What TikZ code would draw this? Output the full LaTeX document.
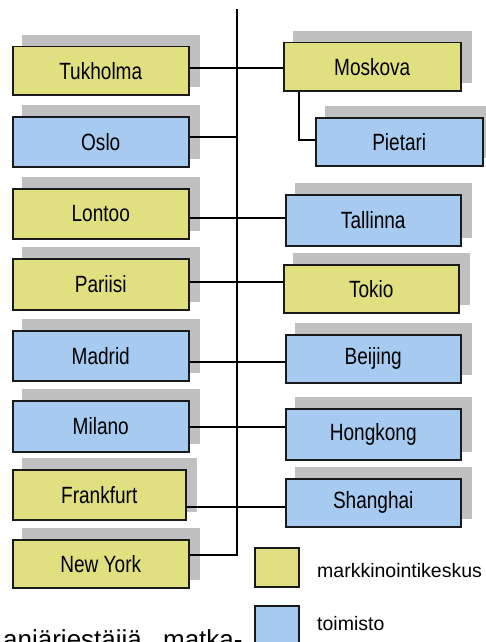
\documentclass[tikz,border=0pt]{standalone}
\usepackage{fontspec}
\setmainfont{Liberation Sans}
\newfontfamily\boxfont[FakeStretch=0.81]{Liberation Sans}
\pgfdeclarelayer{bg}
\pgfsetlayers{bg,main}
\definecolor{yel}{HTML}{E0E080}
\definecolor{blu}{HTML}{A6CAF0}
\definecolor{shadowgray}{HTML}{C0C0C0}
\definecolor{edge}{HTML}{1A1A1A}
\tikzset{
  box/.style={draw=edge, line width=1.5pt, inner sep=0pt, anchor=north west,
    font=\boxfont\fontsize{23.5}{28}\selectfont},
  ybox/.style={box, fill=yel},
  bbox/.style={box, fill=blu},
  conn/.style={draw=black, line width=1.2pt},
  legtext/.style={anchor=base west, inner sep=0pt, font=\fontsize{19.5}{22}\selectfont}
}
\newcommand\shadowof[1]{\fill[shadowgray] ([shift={(10,-11)}]#1.north west) rectangle ([shift={(10,-9)}]#1.south east);}
\begin{document}
\begin{tikzpicture}[x=1pt,y=-1pt]
\clip (0,0) rectangle (485,642);
% left column
\node[ybox,minimum width=176pt,minimum height=48pt] (tuk) at (12,46) {Tukholma};
\node[bbox,minimum width=176pt,minimum height=50pt] (osl) at (12,116) {Oslo};
\node[ybox,minimum width=176pt,minimum height=50pt] (lon) at (12,188) {Lontoo};
\node[ybox,minimum width=176pt,minimum height=51pt] (par) at (12,258) {Pariisi};
\node[bbox,minimum width=176pt,minimum height=50pt] (mad) at (12,330) {Madrid};
\node[bbox,minimum width=176pt,minimum height=51pt] (mil) at (12,400) {Milano};
\node[ybox,minimum width=173pt,minimum height=50pt] (fra) at (12,469) {Frankfurt};
\node[ybox,minimum width=176pt,minimum height=48pt] (ny) at (12,539) {New York};
% right column
\node[ybox,minimum width=177pt,minimum height=48pt] (mos) at (283,42) {Moskova};
\node[bbox,minimum width=167pt,minimum height=48pt] (pie) at (315,117) {Pietari};
\node[bbox,minimum width=175pt,minimum height=51pt] (tal) at (285,194) {Tallinna};
\node[ybox,minimum width=175pt,minimum height=48pt] (tok) at (283,264) {Tokio};
\node[bbox,minimum width=175pt,minimum height=48pt] (bei) at (285,334) {Beijing};
\node[bbox,minimum width=175pt,minimum height=51pt] (hon) at (285,408) {Hongkong};
\node[bbox,minimum width=175pt,minimum height=48pt] (sha) at (285,478) {Shanghai};
% background and shadows
\begin{pgfonlayer}{bg}
\fill[white] (0,0) rectangle (485,642);
\foreach \n in {tuk,osl,lon,par,mad,mil,fra,ny,mos,pie,tal,tok,bei,hon,sha}{\shadowof{\n}}
\end{pgfonlayer}
% spine
\coordinate (top) at (237,9);
\coordinate (bot) at (237,555);
\draw[conn] (top) -- (bot) -- (bot -| ny.east);
% connectors
\draw[conn] (tuk.east |- 0,68) -- (mos.west |- 0,68);
\draw[conn] (osl.east |- 0,137) -- (top |- 0,137);
\draw[conn] (lon.east |- 0,218) -- (tal.west |- 0,218);
\draw[conn] (par.east |- 0,282) -- (tok.west |- 0,282);
\draw[conn] (mad.east |- 0,362) -- (bei.west |- 0,362);
\draw[conn] (mil.east |- 0,427) -- (hon.west |- 0,427);
\draw[conn] (fra.east |- 0,507) -- (sha.west |- 0,507);
\draw[conn] (mos.south -| 299,0) |- (pie.west |- 0,140);
% legend
\node[box,fill=yel,minimum width=44pt,minimum height=39pt] (lk) at (254,547) {};
\node[box,fill=blu,minimum width=44pt,minimum height=45pt] (lt) at (254,605) {};
\node[legtext] (lkt) at (317,577) {markkinointikeskus};
\node[legtext] (ltt) at (317,630) {toimisto};
% cut-off text at bottom
\node[anchor=base west, inner sep=0pt, font=\fontsize{26}{30}\selectfont] (btxt) at (3,648) {anjärjestäjiä,\hspace{14pt}matka-};
\end{tikzpicture}
\end{document}
